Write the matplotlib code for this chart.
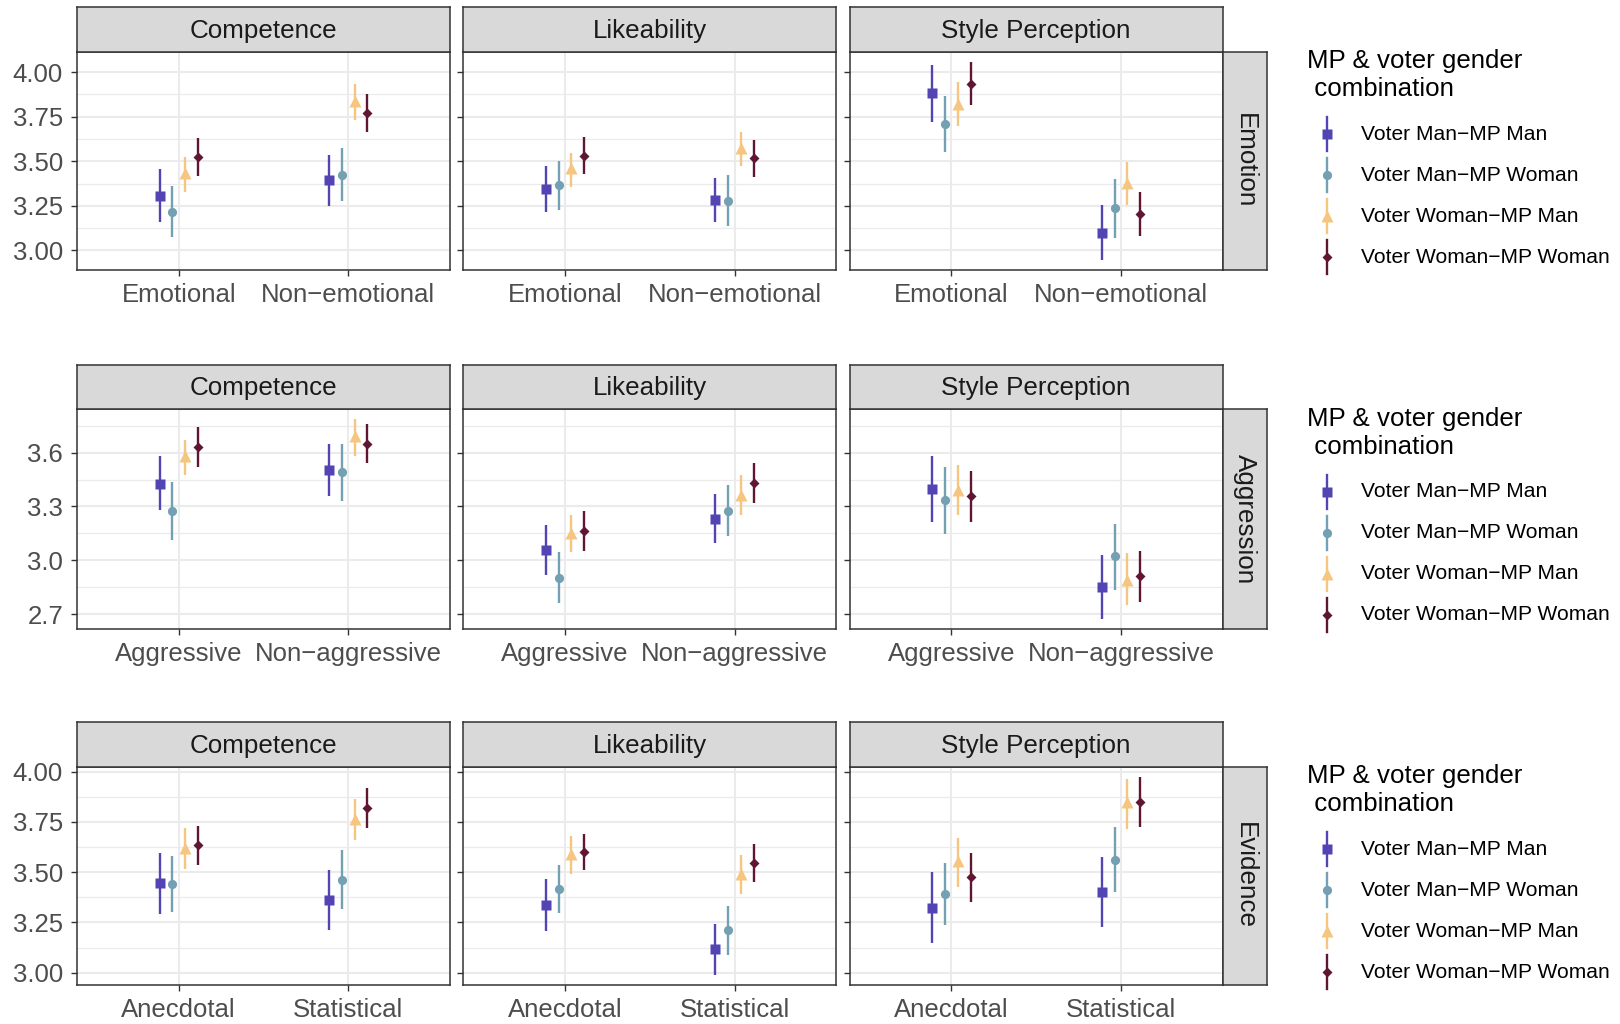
import matplotlib
matplotlib.use("Agg")
import matplotlib.pyplot as plt
from matplotlib.ticker import FixedLocator
import numpy as np

plt.rcParams['font.family'] = ['Liberation Sans', 'DejaVu Sans']

# ---- data -------------------------------------------------------------
groups = ["Voter Man\u2212MP Man", "Voter Man\u2212MP Woman",
          "Voter Woman\u2212MP Man", "Voter Woman\u2212MP Woman"]
outcomes = ["Competence", "Likeability", "Style Perception"]

emotion_levels = ["Emotional", "Non\u2212emotional"]
aggression_levels = ["Aggressive", "Non\u2212aggressive"]
evidence_levels = ["Anecdotal", "Statistical"]

# [outcome][level][group]
emotion_est = [[[3.307, 3.218, 3.436, 3.523], [3.396, 3.425, 3.837, 3.773]],
               [[3.344, 3.366, 3.464, 3.532], [3.285, 3.279, 3.575, 3.518]],
               [[3.884, 3.708, 3.824, 3.935], [3.100, 3.237, 3.381, 3.207]]]
emotion_lo = [[[3.159, 3.074, 3.325, 3.418], [3.251, 3.277, 3.732, 3.667]],
              [[3.214, 3.227, 3.357, 3.427], [3.157, 3.135, 3.473, 3.412]],
              [[3.721, 3.551, 3.697, 3.815], [2.946, 3.070, 3.255, 3.081]]]
emotion_hi = [[[3.455, 3.360, 3.525, 3.630], [3.536, 3.573, 3.935, 3.880]],
              [[3.473, 3.501, 3.547, 3.634], [3.409, 3.423, 3.667, 3.621]],
              [[4.041, 3.865, 3.945, 4.059], [3.257, 3.400, 3.497, 3.329]]]

aggression_est = [[[3.426, 3.276, 3.578, 3.630], [3.504, 3.491, 3.693, 3.648]],
                  [[3.059, 2.902, 3.152, 3.163], [3.233, 3.276, 3.365, 3.428]],
                  [[3.398, 3.335, 3.389, 3.356], [2.854, 3.022, 2.893, 2.911]]]
aggression_lo = [[[3.278, 3.115, 3.476, 3.522], [3.356, 3.333, 3.581, 3.541]],
                 [[2.919, 2.761, 3.046, 3.050], [3.096, 3.133, 3.254, 3.317]],
                 [[3.215, 3.148, 3.254, 3.213], [2.674, 2.837, 2.750, 2.769]]]
aggression_hi = [[[3.578, 3.437, 3.670, 3.741], [3.648, 3.648, 3.785, 3.757]],
                 [[3.196, 3.046, 3.250, 3.274], [3.372, 3.417, 3.474, 3.541]],
                 [[3.578, 3.519, 3.530, 3.498], [3.030, 3.204, 3.041, 3.050]]]

evidence_est = [[[3.446, 3.441, 3.622, 3.633], [3.363, 3.462, 3.765, 3.819]],
                [[3.339, 3.418, 3.592, 3.602], [3.117, 3.214, 3.490, 3.546]],
                [[3.324, 3.391, 3.556, 3.474], [3.403, 3.561, 3.849, 3.849]]]
evidence_lo = [[[3.293, 3.301, 3.515, 3.535], [3.211, 3.316, 3.658, 3.717]],
               [[3.207, 3.298, 3.490, 3.510], [2.988, 3.087, 3.391, 3.452]],
               [[3.148, 3.235, 3.424, 3.349], [3.227, 3.400, 3.714, 3.724]]]
evidence_hi = [[[3.594, 3.581, 3.720, 3.729], [3.510, 3.609, 3.863, 3.918]],
               [[3.465, 3.535, 3.681, 3.688], [3.240, 3.332, 3.584, 3.638]],
               [[3.502, 3.544, 3.671, 3.595], [3.576, 3.724, 3.964, 3.975]]]

emotion_ticks = [3.00, 3.25, 3.50, 3.75, 4.00]
aggression_ticks = [2.7, 3.0, 3.3, 3.6]
evidence_ticks = [3.00, 3.25, 3.50, 3.75, 4.00]

# ---- styling ----------------------------------------------------------
colors = ["#5344B4", "#73A0B2", "#F6C580", "#5E1632"]
markers = ["s", "o", "^", "D"]
msizes = [7.8, 6.6, 8.8, 4.8]
dodge = np.array([-0.1125, -0.0375, 0.0375, 0.1125])

W, H = 1620, 1024
fig = plt.figure(figsize=(W / 100, H / 100), dpi=100)


def px_axes(x0, y0, x1, y1):
    """Axes placed by pixel box (origin at top-left)."""
    return fig.add_axes([x0 / W, 1 - y1 / H, (x1 - x0) / W, (y1 - y0) / H])


col_x0 = [77, 463.3, 849.7]
panel_w = 373
strip_h = 44.5
row_strip_w = 44

rows = [
    ("Emotion", emotion_levels, emotion_est, emotion_lo, emotion_hi,
     emotion_ticks, "{:.2f}", 51.7, 270.0),
    ("Aggression", aggression_levels, aggression_est, aggression_lo, aggression_hi,
     aggression_ticks, "{:.1f}", 409.3, 629.0),
    ("Evidence", evidence_levels, evidence_est, evidence_lo, evidence_hi,
     evidence_ticks, "{:.2f}", 766.7, 985.0),
]

overlay = fig.add_axes([0, 0, 1, 1], zorder=10)
overlay.set_xlim(0, W)
overlay.set_ylim(H, 0)
overlay.axis("off")

for (rname, levels, est, lo, hi, ticks, fmt, top, bottom) in rows:
    lo_arr = np.array(lo)
    hi_arr = np.array(hi)
    ymin, ymax = lo_arr.min(), hi_arr.max()
    pad = 0.05 * (ymax - ymin)
    ylim = (ymin - pad, ymax + pad)
    step = ticks[1] - ticks[0]
    minor = [t + step / 2 for t in [ticks[0] - step] + ticks]

    for ci, outcome in enumerate(outcomes):
        x0 = col_x0[ci]
        ax = px_axes(x0, top, x0 + panel_w, bottom)
        ax.set_xlim(0.4, 2.6)
        ax.set_ylim(*ylim)
        ax.set_axisbelow(True)
        ax.set_xticks([1, 2])
        ax.set_xticklabels(levels)
        ax.set_yticks(ticks)
        ax.yaxis.set_minor_locator(FixedLocator(minor))
        if ci == 0:
            ax.set_yticklabels([fmt.format(t) for t in ticks])
        else:
            ax.set_yticklabels([])
            ax.tick_params(axis="y", which="major", length=0)
        ax.grid(which="major", color="#EBEBEB", lw=1.5)
        ax.grid(which="minor", axis="y", color="#EBEBEB", lw=0.9)
        ax.tick_params(which="major", length=4, width=1.0, color="#333333",
                       labelcolor="#4D4D4D", labelsize=18.5, pad=5.5)
        ax.tick_params(which="minor", length=0)
        ax.tick_params(axis="y", pad=6)
        for sp in ax.spines.values():
            sp.set_color("#333333")
            sp.set_linewidth(1.1)

        for gi in range(4):
            xs = np.arange(1, 3) + dodge[gi]
            e = [est[ci][li][gi] for li in range(2)]
            l = [lo[ci][li][gi] for li in range(2)]
            h = [hi[ci][li][gi] for li in range(2)]
            ax.vlines(xs, l, h, color=colors[gi], lw=1.7, zorder=3)
            ax.plot(xs, e, ls="none", marker=markers[gi], ms=msizes[gi],
                    color=colors[gi], mec="none", zorder=4)

        # column strip
        sax = px_axes(x0, top - strip_h, x0 + panel_w, top)
        sax.set_facecolor("#D9D9D9")
        sax.set_xticks([])
        sax.set_yticks([])
        for sp in sax.spines.values():
            sp.set_color("#333333")
            sp.set_linewidth(1.1)
        sax.text(0.5, 0.47, outcome, ha="center", va="center",
                 fontsize=18.7, color="#1A1A1A", transform=sax.transAxes)

    # row strip
    rx0 = col_x0[2] + panel_w
    rax = px_axes(rx0, top, rx0 + row_strip_w, bottom)
    rax.set_facecolor("#D9D9D9")
    rax.set_xticks([])
    rax.set_yticks([])
    for sp in rax.spines.values():
        sp.set_color("#333333")
        sp.set_linewidth(1.1)
    rax.text(0.5, 0.5, rname, ha="center", va="center", rotation=-90,
             fontsize=18.7, color="#1A1A1A", transform=rax.transAxes)

    # legend
    ty = top + 9.5
    overlay.text(1307, ty, "MP & voter gender", ha="left", va="center",
                 fontsize=18.6, color="black")
    overlay.text(1307, ty + 28, " combination", ha="left", va="center",
                 fontsize=18.6, color="black")
    for gi, g in enumerate(groups):
        ey = top + 82.5 + gi * 41
        overlay.plot([1327, 1327], [ey - 17, ey + 17], color=colors[gi], lw=1.7)
        overlay.plot([1327], [ey], ls="none", marker=markers[gi], ms=msizes[gi],
                     color=colors[gi], mec="none")
        overlay.text(1361, ey, g, ha="left", va="center", fontsize=15.1,
                     color="black")

fig.savefig("out.png", dpi=100, facecolor="white")
